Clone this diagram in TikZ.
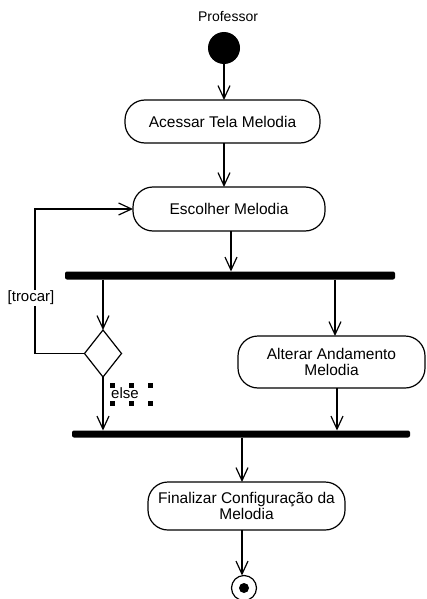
\documentclass[tikz,border=0pt]{standalone}
\usepackage{fontspec}
\setmainfont{Liberation Sans}
\usetikzlibrary{arrows.meta,shapes.geometric}
\begin{document}
\begin{tikzpicture}[x=1pt,y=-1pt,
  every node/.style={inner sep=0pt,outer sep=0pt},
  act/.style={draw,line width=1.2pt,rounded corners=20pt,align=center,
    font=\fontsize{15.5}{16.5}\selectfont},
  bar/.style={fill=black,draw=none,rounded corners=2pt},
  flow/.style={line width=1.2pt,-{Straight Barb[length=13pt,width=12pt,line width=1.2pt]}},
  lbl/.style={font=\fontsize{15}{16}\selectfont},
  handle/.style={fill=black,minimum size=5pt}]
\useasboundingbox (0,0) rectangle (426,599);
% title
\node[font=\fontsize{14}{15}\selectfont] (prof) at (228,17) {Professor};
% initial
\node[circle,fill=black,minimum size=32pt] (init) at (224,48) {};
% activities
\node[act,minimum width=195pt,minimum height=43pt] (a1) at (222.5,121.5) {Acessar Tela Melodia};
\node[act,minimum width=192pt,minimum height=44pt] (a2) at (229,209) {Escolher Melodia};
\node[act,minimum width=187pt,minimum height=52pt] (a3) at (331.5,362) {Alterar Andamento\\Melodia};
\node[act,minimum width=197pt,minimum height=48pt] (a4) at (246.5,506) {Finalizar Configuração da\\Melodia};
% bars
\node[bar,minimum width=330pt,minimum height=8pt] (b1) at (230,275.5) {};
\node[bar,minimum width=338pt,minimum height=7pt] (b2) at (241,434) {};
% decision
\node[diamond,draw,line width=1.2pt,minimum width=37pt,minimum height=47pt] (dia) at (103,353.5) {};
% final
\node[circle,draw,line width=1.2pt,minimum size=25pt] (fin) at (244,588) {};
\node[circle,fill=black,minimum size=10pt] (findot) at (fin.center) {};
% connectors
\draw[flow] (init.south) -- (init |- a1.north);
\draw[flow] (a1.south -| init) -- (init |- a2.north);
\coordinate (c2) at (231,0);
\draw[flow] (c2 |- a2.south) -- (c2 |- b1.north);
\coordinate (cl) at (103,0);
\draw[flow] (cl |- b1.south) -- (dia.north);
\coordinate (cr) at (335,0);
\draw[flow] (cr |- b1.south) -- (cr |- a3.north);
\coordinate (lp) at (35,209);
\draw[flow] (dia.west) -| (lp) -- (a2.west);
\draw[flow] (dia.south) -- (cl |- b2.north);
\coordinate (cr2) at (337,0);
\draw[flow] (cr2 |- a3.south) -- (cr2 |- b2.north);
\coordinate (c4) at (242,0);
\draw[flow] (c4 |- b2.south) -- (c4 |- a4.north);
\draw[flow] (c4 |- a4.south) -- (c4 |- fin.north);
% labels
\node[lbl,fill=white,inner sep=1pt] (trocar) at (31,298) {[trocar]};
\node[lbl] (else) at (125,393) {else};
% selection handles
\node[handle] (h1) at (112,385) {};
\node[handle] (h2) at (131,385) {};
\node[handle] (h3) at (150,385) {};
\node[handle] (h4) at (112,403) {};
\node[handle] (h5) at (131,403) {};
\node[handle] (h6) at (150,403) {};
\end{tikzpicture}
\end{document}
